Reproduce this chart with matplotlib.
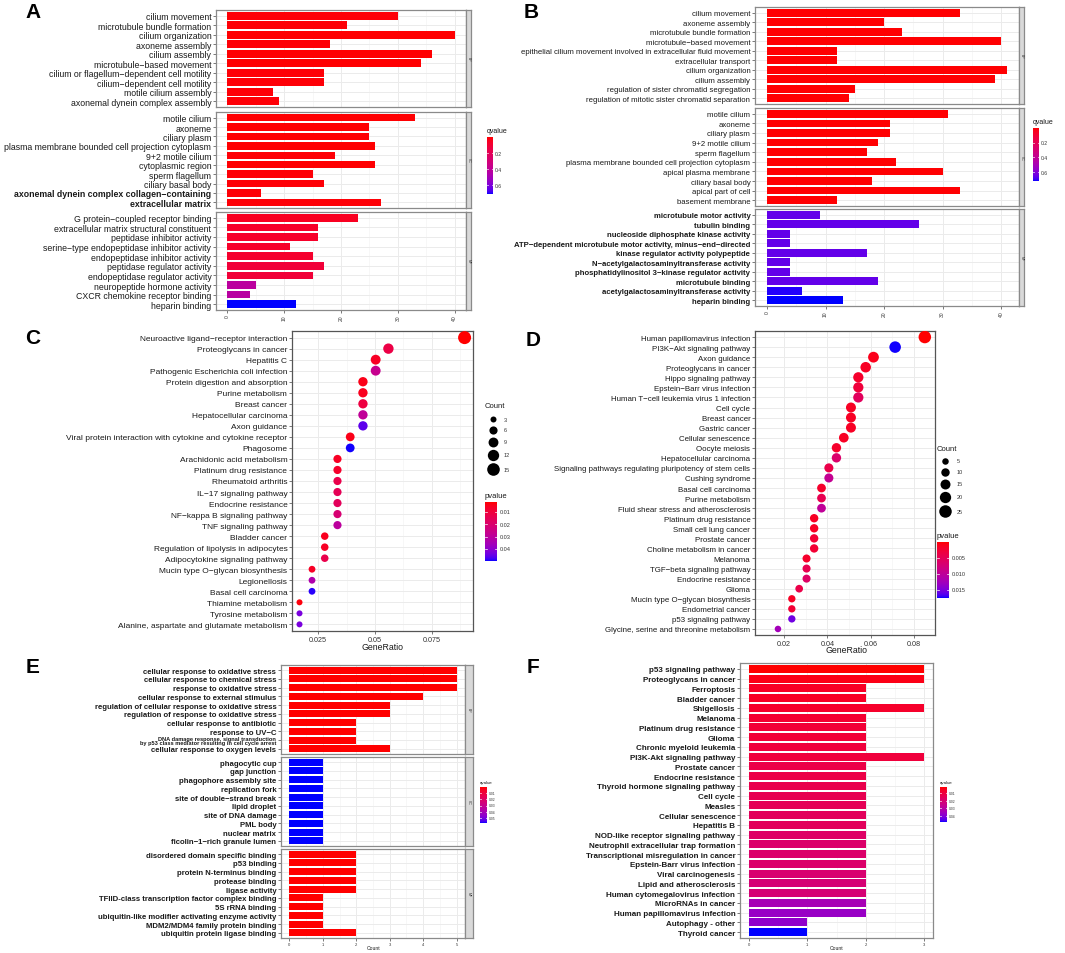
import numpy as np
import matplotlib
matplotlib.use("Agg")
import matplotlib.pyplot as plt
from matplotlib.colors import ListedColormap, Normalize

plt.rcParams['font.family'] = ['Liberation Sans', 'DejaVu Sans']

# ---------------- DATA ----------------
# Panel A (GO, counts + qvalue)
A_BP_terms = ["cilium movement", "microtubule bundle formation", "cilium organization", "axoneme assembly",
              "cilium assembly", "microtubule−based movement", "cilium or flagellum−dependent cell motility",
              "cilium−dependent cell motility", "motile cilium assembly", "axonemal dynein complex assembly"]
A_BP_count = [30, 21, 40, 18, 36, 34, 17, 17, 8, 9]
A_BP_q = [0.01, 0.01, 0.005, 0.01, 0.005, 0.005, 0.01, 0.01, 0.01, 0.01]
A_CC_terms = ["motile cilium", "axoneme", "ciliary plasm", "plasma membrane bounded cell projection cytoplasm",
              "9+2 motile cilium", "cytoplasmic region", "sperm flagellum", "ciliary basal body",
              "axonemal dynein complex collagen−containing", "extracellular matrix"]
A_CC_count = [33, 25, 25, 26, 19, 26, 15, 17, 6, 27]
A_CC_q = [0.005, 0.005, 0.005, 0.005, 0.01, 0.005, 0.01, 0.01, 0.01, 0.01]
A_MF_terms = ["G protein−coupled receptor binding", "extracellular matrix structural constituent",
              "peptidase inhibitor activity", "serine−type endopeptidase inhibitor activity",
              "endopeptidase inhibitor activity", "peptidase regulator activity",
              "endopeptidase regulator activity", "neuropeptide hormone activity",
              "CXCR chemokine receptor binding", "heparin binding"]
A_MF_count = [23, 16, 16, 11, 15, 17, 15, 5, 4, 12]
A_MF_q = [0.05, 0.07, 0.07, 0.07, 0.08, 0.11, 0.11, 0.42, 0.43, 0.71]

# Panel B
B_BP_terms = ["cilium movement", "axoneme assembly", "microtubule bundle formation", "microtubule−based movement",
              "epithelial cilium movement involved in extracellular fluid movement", "extracellular transport",
              "cilium organization", "cilium assembly", "regulation of sister chromatid segregation",
              "regulation of mitotic sister chromatid separation"]
B_BP_count = [33, 20, 23, 40, 12, 12, 41, 39, 15, 14]
B_BP_q = [0.005] * 10
B_CC_terms = ["motile cilium", "axoneme", "ciliary plasm", "9+2 motile cilium", "sperm flagellum",
              "plasma membrane bounded cell projection cytoplasm", "apical plasma membrane",
              "ciliary basal body", "apical part of cell", "basement membrane"]
B_CC_count = [31, 21, 21, 19, 17, 22, 30, 18, 33, 12]
B_CC_q = [0.005] * 10
B_MF_terms = ["microtubule motor activity", "tubulin binding", "nucleoside diphosphate kinase activity",
              "ATP−dependent microtubule motor activity, minus−end−directed", "kinase regulator activity polypeptide",
              "N−acetylgalactosaminyltransferase activity", "phosphatidylinositol 3−kinase regulator activity",
              "microtubule binding", "acetylgalactosaminyltransferase activity", "heparin binding"]
B_MF_count = [9, 26, 4, 4, 17, 4, 4, 19, 6, 13]
B_MF_q = [0.655, 0.655, 0.655, 0.655, 0.655, 0.655, 0.655, 0.655, 0.71, 0.72]

# Panel C (KEGG dot plot)
C_terms = ["Neuroactive ligand−receptor interaction", "Proteoglycans in cancer", "Hepatitis C",
           "Pathogenic Escherichia coli infection", "Protein digestion and absorption", "Purine metabolism",
           "Breast cancer", "Hepatocellular carcinoma", "Axon guidance",
           "Viral protein interaction with cytokine and cytokine receptor", "Phagosome",
           "Arachidonic acid metabolism", "Platinum drug resistance", "Rheumatoid arthritis",
           "IL−17 signaling pathway", "Endocrine resistance", "NF−kappa B signaling pathway",
           "TNF signaling pathway", "Bladder cancer", "Regulation of lipolysis in adipocytes",
           "Adipocytokine signaling pathway", "Mucin type O−glycan biosynthesis", "Legionellosis",
           "Basal cell carcinoma", "Thiamine metabolism", "Tyrosine metabolism",
           "Alanine, aspartate and glutamate metabolism"]
C_ratio = [0.0894, 0.0559, 0.0503, 0.0503, 0.0447, 0.0447, 0.0447, 0.0447, 0.0447, 0.0391, 0.0391,
           0.0335, 0.0335, 0.0335, 0.0335, 0.0335, 0.0335, 0.0335, 0.0279, 0.0279, 0.0279,
           0.0223, 0.0223, 0.0223, 0.0168, 0.0168, 0.0168]
C_count = [16, 10, 9, 9, 8, 8, 8, 8, 8, 7, 7, 6, 6, 6, 6, 6, 6, 6, 5, 5, 5, 4, 4, 4, 3, 3, 3]
C_p = [0.002, 0.012, 0.006, 0.027, 0.004, 0.005, 0.011, 0.029, 0.046, 0.004, 0.0495,
       0.006, 0.007, 0.013, 0.015, 0.016, 0.021, 0.030, 0.005, 0.006, 0.013,
       0.006, 0.033, 0.049, 0.003, 0.043, 0.043]
C_size_breaks = [3, 6, 9, 12, 15]
C_p_ticks = [0.01, 0.02, 0.03, 0.04]

# Panel D
D_terms = ["Human papillomavirus infection", "PI3K−Akt signaling pathway", "Axon guidance",
           "Proteoglycans in cancer", "Hippo signaling pathway", "Epstein−Barr virus infection",
           "Human T−cell leukemia virus 1 infection", "Cell cycle", "Breast cancer", "Gastric cancer",
           "Cellular senescence", "Oocyte meiosis", "Hepatocellular carcinoma",
           "Signaling pathways regulating pluripotency of stem cells", "Cushing syndrome",
           "Basal cell carcinoma", "Purine metabolism", "Fluid shear stress and atherosclerosis",
           "Platinum drug resistance", "Small cell lung cancer", "Prostate cancer",
           "Choline metabolism in cancer", "Melanoma", "TGF−beta signaling pathway", "Endocrine resistance",
           "Glioma", "Mucin type O−glycan biosynthesis", "Endometrial cancer", "p53 signaling pathway",
           "Glycine, serine and threonine metabolism"]
D_ratio = [0.0850, 0.0713, 0.0613, 0.0577, 0.0543, 0.0543, 0.0543, 0.0509, 0.0509, 0.0509,
           0.0476, 0.0442, 0.0442, 0.0407, 0.0407, 0.0373, 0.0373, 0.0373, 0.0339, 0.0339,
           0.0339, 0.0339, 0.0304, 0.0304, 0.0304, 0.0270, 0.0236, 0.0236, 0.0236, 0.0172]
D_count = [25, 21, 18, 17, 16, 16, 16, 15, 15, 15, 14, 13, 13, 12, 12, 11, 11, 11, 10, 10,
           10, 10, 9, 9, 9, 8, 7, 7, 7, 5]
D_p = [0.0002, 0.0175, 0.001, 0.0015, 0.002, 0.003, 0.0055, 0.0015, 0.0015, 0.0015,
       0.0015, 0.002, 0.0065, 0.004, 0.0095, 0.002, 0.0045, 0.010, 0.0015, 0.0015,
       0.0025, 0.0025, 0.002, 0.0045, 0.006, 0.004, 0.0015, 0.0025, 0.0155, 0.0125]
D_size_breaks = [5, 10, 15, 20, 25]
D_p_ticks = [0.005, 0.010, 0.015]

# Panel E
E_BP_terms = ["cellular response to oxidative stress", "cellular response to chemical stress",
              "response to oxidative stress", "cellular response to external stimulus",
              "regulation of cellular response to oxidative stress", "regulation of response to oxidative stress",
              "cellular response to antibiotic", "response to UV−C",
              "DNA damage response, signal transduction\nby p53 class mediator resulting in cell cycle arrest",
              "cellular response to oxygen levels"]
E_BP_count = [5, 5, 5, 4, 3, 3, 2, 2, 2, 3]
E_BP_q = [0.0005] * 10
E_CC_terms = ["phagocytic cup", "gap junction", "phagophore assembly site", "replication fork",
              "site of double−strand break", "lipid droplet", "site of DNA damage", "PML body",
              "nuclear matrix", "ficolin−1−rich granule lumen"]
E_CC_count = [1, 1, 1, 1, 1, 1, 1, 1, 1, 1]
E_CC_q = [0.058] * 10
E_MF_terms = ["disordered domain specific binding", "p53 binding", "protein N-terminus binding",
              "protease binding", "ligase activity", "TFIID-class transcription factor complex binding",
              "5S rRNA binding", "ubiquitin-like modifier activating enzyme activity",
              "MDM2/MDM4 family protein binding", "ubiquitin protein ligase binding"]
E_MF_count = [2, 2, 2, 2, 2, 1, 1, 1, 1, 2]
E_MF_q = [0.0005] * 10

# Panel F
F_terms = ["p53 signaling pathway", "Proteoglycans in cancer", "Ferroptosis", "Bladder cancer", "Shigellosis",
           "Melanoma", "Platinum drug resistance", "Glioma", "Chronic myeloid leukemia", "PI3K-Akt signaling pathway",
           "Prostate cancer", "Endocrine resistance", "Thyroid hormone signaling pathway", "Cell cycle", "Measles",
           "Cellular senescence", "Hepatitis B", "NOD-like receptor signaling pathway",
           "Neutrophil extracellular trap formation", "Transcriptional misregulation in cancer",
           "Epstein-Barr virus infection", "Viral carcinogenesis", "Lipid and atherosclerosis",
           "Human cytomegalovirus infection", "MicroRNAs in cancer", "Human papillomavirus infection",
           "Autophagy - other", "Thyroid cancer"]
F_count = [3, 3, 2, 2, 3, 2, 2, 2, 2, 3, 2, 2, 2, 2, 2, 2, 2, 2, 2, 2, 2, 2, 2, 2, 2, 2, 1, 1]
F_q = [0.0022, 0.004, 0.006, 0.006, 0.007, 0.008, 0.009, 0.009, 0.010, 0.010, 0.012, 0.012, 0.013, 0.014,
       0.015, 0.016, 0.016, 0.018, 0.019, 0.019, 0.019, 0.020, 0.021, 0.021, 0.034, 0.037, 0.038, 0.048]

# ---------------- helpers ----------------
W, H = 1065, 954
fig = plt.figure(figsize=(W / 100, H / 100), dpi=100)
PX = 0.72  # points per pixel


def rect(x0, y0, x1, y1):
    return [x0 / W, 1 - y1 / H, (x1 - x0) / W, (y1 - y0) / H]


_M = np.array([[0.4124564, 0.3575761, 0.1804375],
               [0.2126729, 0.7151522, 0.0721750],
               [0.0193339, 0.1191920, 0.9503041]])
_WP = np.array([0.95047, 1.0, 1.08883])


def to_lab(rgb):
    c = np.asarray(rgb, float)
    lin = np.where(c <= 0.04045, c / 12.92, ((c + 0.055) / 1.055) ** 2.4)
    xyz = _M @ lin / _WP
    d = 6 / 29
    f = np.where(xyz > d ** 3, np.cbrt(xyz), xyz / (3 * d * d) + 4 / 29)
    return np.array([116 * f[1] - 16, 500 * (f[0] - f[1]), 200 * (f[1] - f[2])])


def from_lab(lab):
    L, a, b = lab
    fy = (L + 16) / 116
    f = np.array([fy + a / 500, fy, fy - b / 200])
    d = 6 / 29
    xyz = np.where(f > d, f ** 3, 3 * d * d * (f - 4 / 29)) * _WP
    lin = np.clip(np.linalg.inv(_M) @ xyz, 0, 1)
    c = np.where(lin <= 0.0031308, 12.92 * lin, 1.055 * lin ** (1 / 2.4) - 0.055)
    return np.clip(c, 0, 1)


_lr, _lb = to_lab([1, 0, 0]), to_lab([0, 0, 1])
CMAP = ListedColormap([from_lab((1 - t) * _lr + t * _lb) for t in np.linspace(0, 1, 256)])

GRID = '#EBEBEB'
TXT = '#1a1a1a'


def style_box(ax, ec='#8a8a8a', lw=0.9):
    for s in ax.spines.values():
        s.set_color(ec)
        s.set_linewidth(lw)


def bar_panel(x0, x1, facet_ys, strip_w, groups, vmin, vmax, xlim, xticks, minor, fs, tick_fs, rot,
              strip_labels, bold_terms=(), all_bold=False, small_terms=(), small_fs=4.0):
    norm = Normalize(vmin, vmax)
    for gi, (terms, counts, qv) in enumerate(groups):
        y0, y1 = facet_ys[gi]
        ax = fig.add_axes(rect(x0, y0, x1, y1))
        n = len(terms)
        pos = np.arange(n)
        ax.barh(pos, counts, height=0.8, color=CMAP(norm(np.array(qv))), zorder=3)
        ax.set_ylim(n - 0.4, -0.6)
        ax.set_xlim(*xlim)
        ax.set_yticks(pos)
        ax.set_yticklabels(terms, fontsize=fs, color=TXT)
        for lab, t in zip(ax.get_yticklabels(), terms):
            if all_bold or t in bold_terms:
                lab.set_fontweight('bold')
            if t in small_terms:
                lab.set_fontsize(small_fs)
                lab.set_linespacing(0.8)
        ax.set_xticks(xticks)
        ax.set_xticks(minor, minor=True)
        ax.set_axisbelow(True)
        ax.grid(True, which='major', color=GRID, lw=0.7, zorder=0)
        ax.grid(True, which='minor', axis='x', color='#F4F4F4', lw=0.5, zorder=0)
        ax.tick_params(axis='y', length=2.2, width=0.5, color='#444', pad=1.2)
        ax.tick_params(axis='x', which='minor', length=0)
        style_box(ax)
        if gi < len(groups) - 1:
            ax.tick_params(axis='x', which='major', length=0, labelbottom=False)
        else:
            ax.tick_params(axis='x', which='major', length=2, width=0.5, color='#444',
                           labelsize=tick_fs, labelrotation=rot, pad=1, labelcolor='#333')
        if strip_w:
            sax = fig.add_axes(rect(x1, y0, x1 + strip_w, y1))
            sax.set_facecolor('#D9D9D9')
            sax.set_xticks([])
            sax.set_yticks([])
            style_box(sax)
            sax.text(0.5, 0.5, strip_labels[gi], rotation=-90, fontsize=2.5, ha='center', va='center',
                     transform=sax.transAxes, color='#333')


def colorbar(x0, y0, x1, y1, vmin, vmax, ticks, title, fs, title_fs, tick_fmt):
    cax = fig.add_axes(rect(x0, y0, x1, y1))
    grad = np.linspace(vmin, vmax, 256)[:, None]
    cax.imshow(grad, aspect='auto', cmap=CMAP, norm=Normalize(vmin, vmax),
               extent=[0, 1, vmax, vmin], origin='upper')
    cax.set_xlim(0, 1)
    cax.set_ylim(vmax, vmin)
    cax.set_xticks([])
    cax.set_yticks([])
    for s in cax.spines.values():
        s.set_visible(False)
    for t in ticks:
        cax.plot([0, 0.2], [t, t], color='white', lw=0.5)
        cax.plot([0.8, 1], [t, t], color='white', lw=0.5)
        cax.text(1.25, t, tick_fmt.format(t), fontsize=fs, va='center', ha='left', color='#333',
                 transform=cax.get_yaxis_transform())
    fig.text(x0 / W, 1 - (y0 - 3) / H, title, fontsize=title_fs, ha='left', va='bottom', color=TXT)


def dot_panel(x0, y0, x1, y1, terms, ratios, counts, pvals, vmin, vmax, xlim, xticks, minor, fs,
              tick_fs, dmin, dmax):
    ax = fig.add_axes(rect(x0, y0, x1, y1))
    n = len(terms)
    pos = np.arange(n)
    c = np.array(counts, float)
    cmin, cmax = c.min(), c.max()
    diam = np.sqrt(dmin ** 2 + (c - cmin) / (cmax - cmin) * (dmax ** 2 - dmin ** 2))
    ax.scatter(ratios, pos, s=(diam * PX) ** 2, c=CMAP(Normalize(vmin, vmax)(np.array(pvals))),
               linewidths=0, zorder=3)
    ax.set_ylim(n - 0.4, -0.6)
    ax.set_xlim(*xlim)
    ax.set_yticks(pos)
    ax.set_yticklabels(terms, fontsize=fs, color=TXT)
    ax.set_xticks(xticks)
    ax.set_xticklabels([f"{t:.3f}" if len(str(t)) > 4 else f"{t:.2f}" for t in xticks])
    ax.set_xticks(minor, minor=True)
    ax.set_axisbelow(True)
    ax.grid(True, which='major', color=GRID, lw=0.7)
    ax.grid(True, which='minor', axis='x', color='#F4F4F4', lw=0.5)
    ax.tick_params(axis='y', length=2.2, width=0.5, color='#444', pad=1.2)
    ax.tick_params(axis='x', which='major', length=2.2, width=0.5, color='#444', labelsize=tick_fs,
                   pad=1.5, labelcolor='#333')
    ax.tick_params(axis='x', which='minor', length=0)
    style_box(ax, ec='#555555', lw=0.9)
    return (cmin, cmax)


def size_legend(title_xy, x, ys, breaks, crange, dmin, dmax, label_x, fs):
    fig.text(title_xy[0] / W, 1 - title_xy[1] / H, "Count", fontsize=fs + 1, ha='left', va='center', color=TXT)
    cmin, cmax = crange
    for yy, b in zip(ys, breaks):
        d = np.sqrt(dmin ** 2 + (b - cmin) / (cmax - cmin) * (dmax ** 2 - dmin ** 2))
        fig.lines.append(plt.Line2D([x / W], [1 - yy / H], marker='o', ms=d * PX, color='black',
                                    mec='none', transform=fig.transFigure))
        fig.text(label_x / W, 1 - yy / H, str(b), fontsize=fs - 0.5, ha='left', va='center', color='#333')


def letter(x, y, s):
    fig.text(x / W, 1 - y / H, s, fontsize=15, fontweight='bold', ha='center', va='center')


# ---------------- Panel A ----------------
bar_panel(216, 466, [(11, 108), (113, 209), (213, 311)], 5,
          [(A_BP_terms, A_BP_count, A_BP_q), (A_CC_terms, A_CC_count, A_CC_q), (A_MF_terms, A_MF_count, A_MF_q)],
          0.0, 0.71, (-2, 42), [0, 10, 20, 30, 40], [5, 15, 25, 35], 6.3, 3.6, 90, ["BP", "CC", "MF"],
          bold_terms={"axonemal dynein complex collagen−containing", "extracellular matrix"})
colorbar(487, 138, 493, 195, 0.0, 0.71, [0.2, 0.4, 0.6], "qvalue", 3.6, 5.0, "{:.1f}")
letter(33, 12, "A")

# ---------------- Panel B ----------------
bar_panel(755, 1019, [(8, 105), (109, 207), (210, 307)], 5,
          [(B_BP_terms, B_BP_count, B_BP_q), (B_CC_terms, B_CC_count, B_CC_q), (B_MF_terms, B_MF_count, B_MF_q)],
          0.0, 0.72, (-2.05, 43.05), [0, 10, 20, 30, 40], [5, 15, 25, 35], 5.6, 3.6, 90, ["BP", "CC", "MF"],
          bold_terms=set(B_MF_terms))
colorbar(1033, 129, 1039, 182, 0.0, 0.72, [0.2, 0.4, 0.6], "qvalue", 3.6, 5.0, "{:.1f}")
letter(531, 13, "B")

# ---------------- Panel C ----------------
crC = dot_panel(292, 332, 473, 632, C_terms, C_ratio, C_count, C_p, 0.0019, 0.0498,
                (0.0135, 0.0931), [0.025, 0.050, 0.075], [0.0375, 0.0625, 0.0875], 6.0, 5.2, 6, 13)
fig.text(382 / W, 1 - 648 / H, "GeneRatio", fontsize=6.3, ha='center', va='center', color=TXT)
size_legend((485, 407), 493, [420, 431, 443, 456, 470], C_size_breaks, crC, 6, 13, 504, 4.5)
colorbar(485, 503, 497, 562, 0.0019, 0.0498, C_p_ticks, "pvalue", 4.0, 5.5, "{:.2f}")
letter(33, 338, "C")

# ---------------- Panel D ----------------
crD = dot_panel(755, 332, 935, 636, D_terms, D_ratio, D_count, D_p, 0.0001, 0.0176,
                (0.0066, 0.0897), [0.02, 0.04, 0.06, 0.08], [0.03, 0.05, 0.07], 5.65, 5.2, 6.5, 12.5)
fig.text(846 / W, 1 - 651 / H, "GeneRatio", fontsize=6.3, ha='center', va='center', color=TXT)
size_legend((937, 450), 945, [462, 473, 485, 498, 512], D_size_breaks, crD, 6.5, 12.5, 957, 4.5)
colorbar(937, 543, 949, 599, 0.0001, 0.0176, D_p_ticks, "pvalue", 4.0, 5.5, "{:.3f}")
letter(533, 340, "D")

# ---------------- Panel E ----------------
bar_panel(281, 465, [(666, 755), (758, 847), (850, 939)], 8,
          [(E_BP_terms, E_BP_count, E_BP_q), (E_CC_terms, E_CC_count, E_CC_q), (E_MF_terms, E_MF_count, E_MF_q)],
          0.0004, 0.058, (-0.25, 5.25), [0, 1, 2, 3, 4, 5], [0.5, 1.5, 2.5, 3.5, 4.5], 5.6, 3.0, 0,
          ["BP", "CC", "MF"], all_bold=True, small_terms={E_BP_terms[8]}, small_fs=4.1)
fig.text(374 / W, 1 - 949 / H, "Count", fontsize=3.6, ha='center', va='center', color=TXT)
colorbar(480, 788, 487, 824, 0.0004, 0.058, [0.01, 0.02, 0.03, 0.04, 0.05], "qvalue", 2.4, 3.2, "{:.2f}")
letter(33, 668, "E")

# ---------------- Panel F ----------------
bar_panel(740, 933, [(664, 939)], 0, [(F_terms, F_count, F_q)],
          0.0022, 0.048, (-0.15, 3.15), [0, 1, 2, 3], [0.5, 1.5, 2.5], 5.75, 3.0, 0, [""], all_bold=True)
fig.text(837 / W, 1 - 949 / H, "Count", fontsize=3.6, ha='center', va='center', color=TXT)
colorbar(940, 788, 947, 823, 0.0022, 0.048, [0.01, 0.02, 0.03, 0.04], "qvalue", 2.4, 3.2, "{:.2f}")
letter(533, 668, "F")

fig.savefig("out.png", dpi=100, facecolor='white')
